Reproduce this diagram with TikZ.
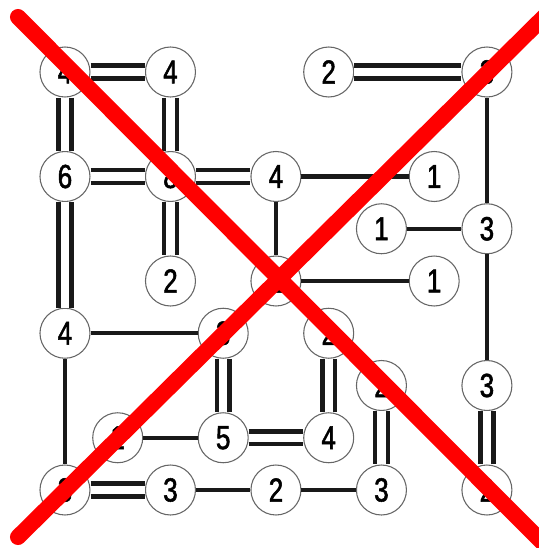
\documentclass[tikz,border=0pt]{standalone}
\usepackage{fontspec}
\setmainfont{Liberation Sans}[FakeStretch=0.78, FakeBold=1.6]

\begin{document}
\begin{tikzpicture}[x=39.56pt, y=-39.19pt,
    isle/.style={circle, draw=black!60, line width=0.8pt, fill=white, minimum size=37.5pt, inner sep=0pt, font=\fontsize{25}{25}\selectfont},
    one/.style={line width=3.2pt, draw=black!90},
    two/.style={line width=3.4pt, draw=black!90, double=white, double distance=6.2pt},
    cross/.style={line width=12pt, draw=red, line cap=round}]
    \useasboundingbox (-1.232,-1.378) rectangle (8.986,9.110);
    \foreach \c/\r/\v in {0/0/4, 2/0/4, 5/0/2, 8/0/3, 0/2/6, 2/2/8, 4/2/4, 7/2/1,
                          6/3/1, 8/3/3, 2/4/2, 4/4/2, 7/4/1, 0/5/4, 3/5/3, 5/5/2,
                          6/6/2, 8/6/3, 1/7/1, 3/7/5, 5/7/4,
                          0/8/3, 2/8/3, 4/8/2, 6/8/3, 8/8/2}
      \node[isle] (n\c\r) at (\c,\r) {\v};

    \foreach \p/\q in {42/72, 42/44, 44/74, 80/83, 63/83, 83/86, 05/35, 05/08, 17/37, 28/48, 48/68}
      \draw[one] (n\p) -- (n\q);
    \foreach \p/\q in {00/20, 00/02, 20/22, 02/22, 22/42, 22/24, 02/05, 50/80, 35/37, 37/57, 55/57, 66/68, 86/88, 08/28}
      \draw[two] (n\p) -- (n\q);

    \begin{scope}
      \clip (-1.232,-1.378) rectangle (8.986,9.110);
      \draw[cross] (-0.891,-1.053) -- (9.10,9.053);
      \draw[cross] (-0.891,8.90) -- (9.137,-1.110);
    \end{scope}
  \end{tikzpicture}
\end{document}
